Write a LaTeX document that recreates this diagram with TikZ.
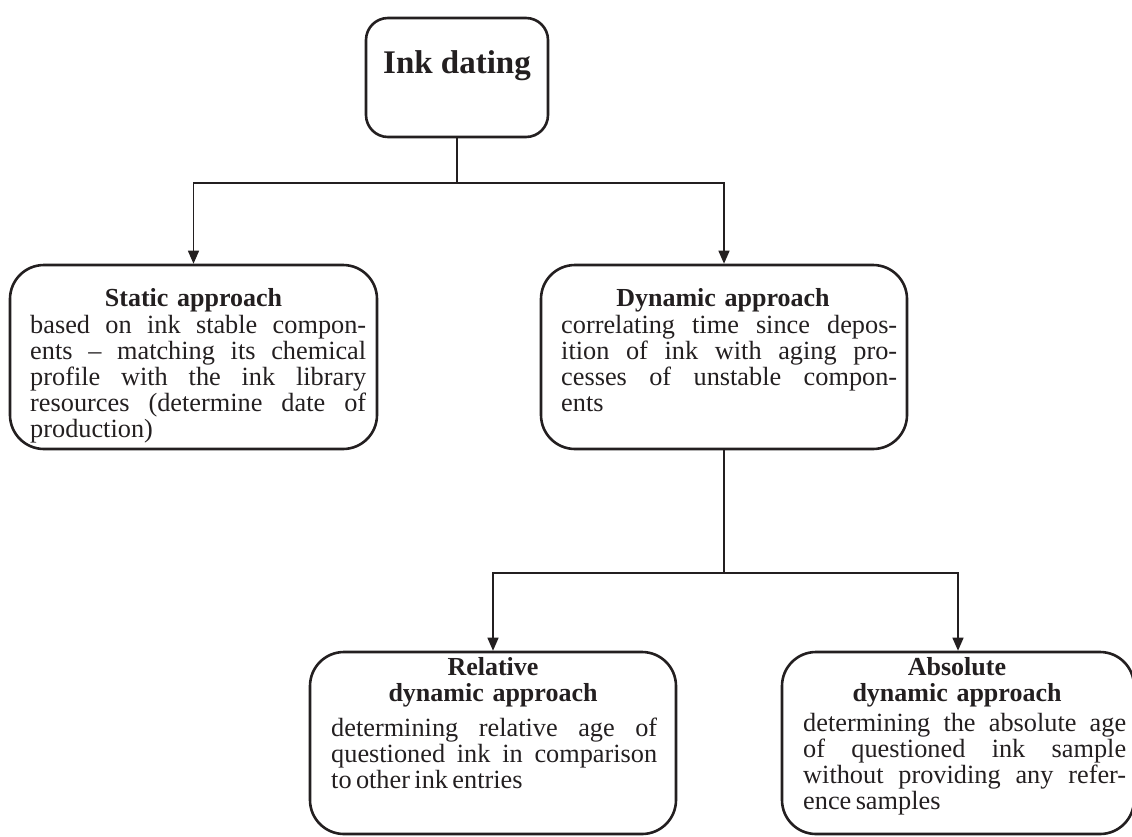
\documentclass[tikz,border=0pt]{standalone}
\usepackage{fontspec}
\setmainfont{Liberation Serif}
\usetikzlibrary{arrows.meta}
\definecolor{inkc}{HTML}{231F20}
\newcommand{\jl}[2]{\leavevmode\hbox to #1pt{\spaceskip=0.25em plus 1fil\relax\xspaceskip=\spaceskip #2}}
\tikzset{
  box/.style={draw=inkc, line width=2.6pt, rounded corners=34pt, inner sep=0pt},
  conn/.style={draw=inkc, line width=1.4pt},
  arr/.style={conn, -{Triangle[length=13pt,width=11pt]}},
  ttl/.style={anchor=base, inner sep=0pt, text=inkc, text width=330pt,
    font=\fontsize{26}{26}\selectfont\bfseries, align=center},
  body/.style={anchor=base west, inner sep=0pt, text=inkc,
    font=\fontsize{26.3}{26}\selectfont, align=left}
}
\begin{document}
\begin{tikzpicture}[x=1pt, y=-1pt]
\useasboundingbox (0,0) rectangle (1132,836);
% boxes
\node[box, rounded corners=22pt, minimum width=182pt, minimum height=119pt] (ink) at (457,77.5) {};
\node[box, minimum width=367pt, minimum height=184pt] (static) at (193.5,357) {};
\node[box, minimum width=366pt, minimum height=184pt] (dyn) at (724,357) {};
\node[box, minimum width=366pt, minimum height=182pt] (rel) at (493,743) {};
\node[box, minimum width=352pt, minimum height=182pt] (abs) at (958,743) {};
% texts
\node[anchor=base, inner sep=0pt, text=inkc, font=\fontsize{33}{36}\selectfont\bfseries]
  (inkt) at (457,73) {Ink dating};
\node[ttl] (statict) at (193.5,306) {Static approach};
\node[body, text width=340pt] (staticb) at (30,333) {%
\jl{336}{based on ink stable compon-}\\
\jl{336}{ents -- matching its chemical}\\
\jl{336}{profile with the ink library}\\
\jl{336}{resources (determine date of}\\
production)};
\node[ttl] (dynt) at (723,306) {Dynamic approach};
\node[body, text width=340pt] (dynb) at (561,333) {%
\jl{336}{correlating time since depos-}\\
\jl{336}{ition of ink with aging pro-}\\
\jl{336}{cesses of unstable compon-}\\
ents};
\node[ttl] (relt) at (493,675) {Relative\\ dynamic approach};
\node[body, text width=330pt] (relb) at (331,736) {%
\jl{326}{determining relative age of}\\
\jl{326}{questioned ink in comparison}\\
to\,other\,ink\,entries};
\node[ttl] (abst) at (957,675) {Absolute\\ dynamic approach};
\node[body, text width=327pt] (absb) at (803,731) {%
\jl{323}{determining the absolute age}\\
\jl{323}{of questioned ink sample}\\
\jl{323}{without providing any refer-}\\
ence\,samples};
% connectors
\coordinate (b1) at (457,183);
\draw[conn] (ink.south) -- (b1);
\draw[arr] (b1) -| (static.north);
\draw[arr] (b1) -| (dyn.north);
\coordinate (b2) at (724,573);
\draw[conn] (dyn.south) -- (b2);
\draw[arr] (b2) -| (rel.north);
\draw[arr] (b2) -| (abs.north);
\end{tikzpicture}
\end{document}
